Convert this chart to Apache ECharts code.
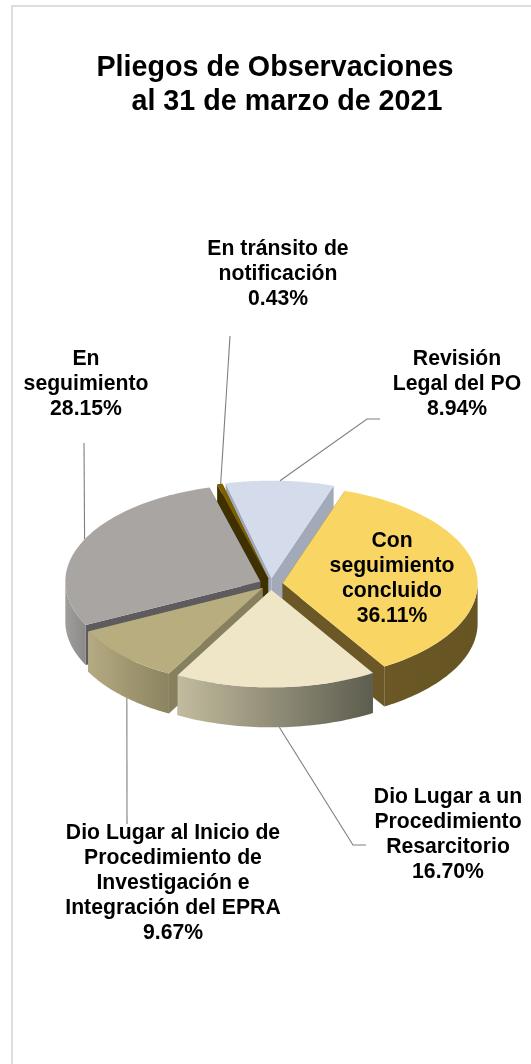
<!DOCTYPE html>
<html><head><meta charset="utf-8">
<style>html,body{margin:0;padding:0;background:#fff}#c{width:531px;height:1064px}</style>
<script src="https://cdn.jsdelivr.net/npm/echarts@6/dist/echarts.min.js"></script>
</head><body><div id="c"></div>
<script>
// ---- data (clockwise, starting from the light-blue slice)
const categories = ['Revisión\nLegal del PO', 'Con\nseguimiento\nconcluido', 'Dio Lugar a un\nProcedimiento\nResarcitorio',
  'Dio Lugar al Inicio de\nProcedimiento de\nInvestigación e\nIntegración del EPRA', 'En\nseguimiento', 'En tránsito de\nnotificación'];
const values = [8.94, 36.11, 16.70, 9.67, 28.15, 0.43];
// ---- styles
const topColors = ['#D4DCEB', '#F9D663', '#EFE6C8', '#B8AD7E', '#A9A5A3', '#7F6000'];
const sideColors = ['#A2AABA', '#6B5826', '#8F8A70', '#87805F', '#5E5B5E', '#3F3000'];
const rimStops = [['#A2AABA','#A2AABA'], ['#6B5826','#665423'], ['#C2BB9E','#5D5D4F'], ['#B5AA82','#8B8460'], ['#A09E9C','#8C8A88'], ['#3F3000','#3F3000']];
// ---- layout
const drawOrder = [0, 5, 4, 1, 3, 2];
const labelPos = [[457, 359], [392, 541], [448, 797], [173, 833], [86, 359], [278, 249]];
const leaderEnds = [[[367, 419], [380, 419]], null, [[353, 845], [366, 845]], [[127, 824]], [[84, 443]], [[230, 336]]];
const leaderShift = [0, 0, -1, -2, 1.5, 0.3];
const cx = 271, cy = 584, rx = 195, ry = 97.5, depth = 40, explode = 0.06, startDeg = -13.6;
const LINE = 25.1;

const total = values.reduce((a, b) => a + b, 0);
let acc = startDeg;
const spans = values.map(v => { const s = acc; acc += v / total * 360; return [s, acc]; });
const rad = d => d * Math.PI / 180;

function renderItem(params, api) {
  const i = api.value(0), val = api.value(1);
  const [a0, a1] = spans[i];
  const mid = (a0 + a1) / 2;
  const ox = cx + rx * explode * Math.sin(rad(mid));
  const oy = cy - ry * explode * Math.cos(rad(mid));
  const pt = (deg, dz) => [ox + rx * Math.sin(rad(deg)), oy - ry * Math.cos(rad(deg)) + (dz || 0)];
  const children = [];
  const poly = (points, fill) => children.push({ type: 'polygon', shape: { points }, style: { fill, stroke: null } });
  // radial walls
  const apex = [ox, oy], apexB = [ox, oy + depth];
  poly([apex, pt(a0), pt(a0, depth), apexB], sideColors[i]);
  poly([apex, pt(a1), pt(a1, depth), apexB], sideColors[i]);
  // outer rim (front half only)
  const norm = d => ((d % 360) + 360) % 360;
  const s = norm(a0), e = s + (a1 - a0);
  const rs = Math.max(s, 90), re = Math.min(e, 270);
  if (re > rs) {
    const up = [], down = [];
    for (let k = 0; k <= 48; k++) {
      const d = rs + (re - rs) * k / 48;
      up.push(pt(d)); down.unshift(pt(d, depth));
    }
    const xs = up.map(p => p[0]);
    const x0 = Math.min(...xs), x1 = Math.max(...xs);
    poly(up.concat(down), new echarts.graphic.LinearGradient(x0, 0, x1, 0,
      [{ offset: 0, color: rimStops[i][0] }, { offset: 1, color: rimStops[i][1] }], true));
  }
  // top face
  const topPts = [apex];
  for (let k = 0; k <= 64; k++) topPts.push(pt(a0 + (a1 - a0) * k / 64));
  poly(topPts, topColors[i]);
  // leader line
  if (leaderEnds[i]) {
    const front = norm(mid) > 90 && norm(mid) < 270;
    children.push({
      type: 'polyline', z2: 5,
      shape: { points: [pt(mid + leaderShift[i], front ? depth : 0)].concat(leaderEnds[i]) },
      style: { fill: null, stroke: '#7F7F7F', lineWidth: 1.1 }
    });
  }
  // label
  const lab = categories[i] + '\n' + val.toFixed(2) + '%';
  children.push({
    type: 'text', z2: 10,
    style: {
      x: labelPos[i][0], y: labelPos[i][1] - LINE / 2, text: lab, align: 'center', verticalAlign: 'top',
      font: 'bold 21.2px "Liberation Sans", Arial, sans-serif', lineHeight: LINE, fill: '#000'
    }
  });
  return { type: 'group', children };
}

const chart = echarts.init(document.getElementById('c'), null, { renderer: 'canvas' });
chart.setOption({
  animation: false,
  backgroundColor: '#fff',
  title: {
    text: 'Pliegos de Observaciones',
    subtext: '   al 31 de marzo de 2021',
    left: 270, top: 46, textAlign: 'center',
    textStyle: { fontFamily: '"Liberation Sans", Arial, sans-serif', fontWeight: 'bold', fontSize: 28.7, color: '#000', lineHeight: 34 },
    subtextStyle: { fontFamily: '"Liberation Sans", Arial, sans-serif', fontWeight: 'bold', fontSize: 28.7, color: '#000', lineHeight: 34 },
    itemGap: 0
  },
  graphic: [{
    type: 'polyline', silent: true,
    shape: { points: [[12, 1080], [12, 6], [540, 6]] },
    style: { fill: null, stroke: '#DEDEDE', lineWidth: 2 }
  }],
  series: [{
    type: 'custom', coordinateSystem: 'none', renderItem, silent: true,
    encode: { value: 1 },
    data: drawOrder.map(i => [i, values[i]])
  }]
});
</script></body></html>
